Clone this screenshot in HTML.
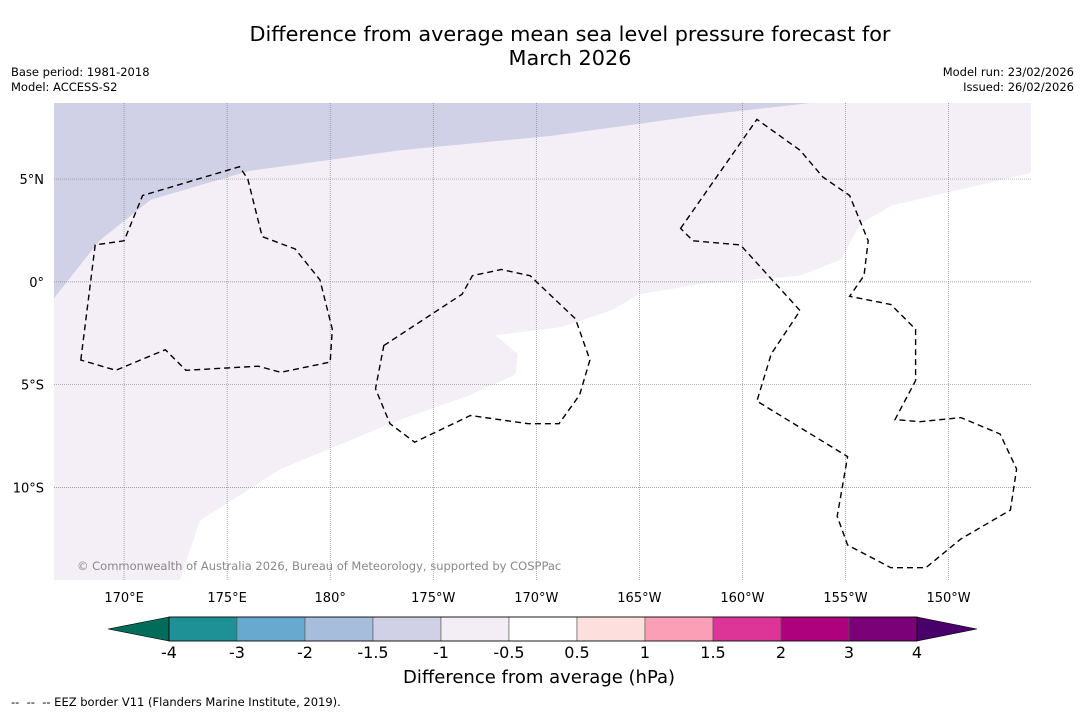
<!DOCTYPE html>
<html><head><meta charset="utf-8">
<style>
body{margin:0;background:#fff;font-family:"DejaVu Sans","Liberation Sans",sans-serif;}
#wrap{position:relative;width:1085px;height:713px;overflow:hidden;background:#fff}
.t{position:absolute;white-space:nowrap;color:#000}
</style></head>
<body>
<div id="wrap">
<div class="t" style="left:0;width:1140px;top:22px;text-align:center;font-size:20.8px;line-height:24px">Difference from average mean sea level pressure forecast for<br>March 2026</div>
<div class="t" style="left:11px;top:65px;font-size:11.5px;line-height:15px">Base period: 1981-2018<br>Model: ACCESS-S2</div>
<div class="t" style="right:11px;top:65px;font-size:11.5px;line-height:15px;text-align:right">Model run: 23/02/2026<br>Issued: 26/02/2026</div>
<svg id="svg" width="1085" height="713" style="position:absolute;left:0;top:0"></svg>
<div class="t" style="left:403px;top:667px;font-size:18px">Difference from average (hPa)</div>
<div class="t" style="left:11px;top:695px;font-size:11.5px">--&nbsp; --&nbsp; -- EEZ border V11 (Flanders Marine Institute, 2019).</div>
</div>
<script>
const lonTicks=[170,175,180,185,190,195,200,205,210];
const lonLabels=["170°E","175°E","180°","175°W","170°W","165°W","160°W","155°W","150°W"];
const latTicks=[5,0,-5,-10];
const latLabels=["5°N","0°","5°S","10°S"];
const cbLevels=["-4","-3","-2","-1.5","-1","-0.5","0.5","1","1.5","2","3","4"];
const cbColors=["#1d9196","#67a9cf","#a6bddb","#d0d1e6","#f3edf6","#ffffff","#fde0dd","#fa9fb5","#dd3497","#ae017e","#7a0177"];
const darkBoundary=[[166.6,-0.8],[168.8,2.0],[171.3,4.0],[176.1,5.4],[183.4,6.4],[190.7,7.1],[198.0,8.1],[203.3,8.7]];
const whiteBoundary=[[172.7,-14.5],[173.7,-11.6],[177.6,-9.1],[183.4,-6.7],[186.8,-5.5],[189.0,-4.5],[189.1,-3.5],[188.0,-2.6],[191.2,-2.2],[193.6,-1.4],[195.0,-0.6],[198.0,-0.1],[202.8,0.3],[204.8,1.1],[205.7,2.8],[207.2,3.7],[214.0,5.3]];
const eez1=[[167.9,-3.8],[168.6,1.8],[170.0,2.0],[170.9,4.2],[175.6,5.6],[176.0,5.0],[176.7,2.2],[178.3,1.6],[179.5,0.1],[180.1,-2.3],[180.0,-3.9],[177.6,-4.4],[176.5,-4.1],[173.0,-4.3],[172.0,-3.3],[169.6,-4.3]];
const eez2=[[182.6,-3.1],[186.4,-0.6],[186.9,0.3],[188.3,0.6],[189.7,0.3],[191.9,-1.8],[192.6,-3.8],[192.1,-5.5],[191.1,-6.9],[189.6,-6.9],[186.8,-6.5],[184.1,-7.8],[182.9,-6.9],[182.2,-5.2]];
const eez3=[[197.0,2.6],[200.7,7.9],[202.8,6.4],[203.9,5.1],[205.2,4.2],[206.1,2.0],[205.9,0.3],[205.2,-0.7],[207.2,-1.1],[208.4,-2.3],[208.4,-4.8],[207.4,-6.7],[208.6,-6.8],[210.6,-6.6],[212.5,-7.4],[213.3,-9.1],[213.0,-11.1],[210.6,-12.5],[208.9,-13.9],[207.2,-13.9],[205.1,-12.8],[204.6,-11.4],[205.1,-8.5],[200.7,-5.8],[201.4,-3.5],[202.8,-1.4],[199.9,1.8],[197.6,2.0]];

const NS="http://www.w3.org/2000/svg";
const svg=document.getElementById('svg');
const X0=54,X1=1031,Y0=103,Y1=580;
const LON0=166.6,LON1=214.0,LAT0=8.7,LAT1=-14.5;
const xs=l=>X0+(l-LON0)/(LON1-LON0)*(X1-X0);
const ys=l=>Y0+(l-LAT0)/(LAT1-LAT0)*(Y1-Y0);
function el(t,a,p){const e=document.createElementNS(NS,t);for(const k in a)e.setAttribute(k,a[k]);(p||svg).appendChild(e);return e;}
const pts=arr=>arr.map(p=>xs(p[0]).toFixed(1)+','+ys(p[1]).toFixed(1)).join(' ');

const defs=el('defs',{});
const cp=el('clipPath',{id:'clip'},defs);
el('rect',{x:X0,y:Y0,width:X1-X0,height:Y1-Y0},cp);
const g=el('g',{'clip-path':'url(#clip)'});


let lav=el('polygon',{points:pts([[LON0,LAT1]].concat(whiteBoundary).concat([[LON1,LAT0],[LON0,LAT0]])),fill:'#f4eef6'},g);


let dk=el('polygon',{points:pts(darkBoundary.concat([[LON0,LAT0]])),fill:'#d0d1e6'},g);


lonTicks.forEach((l,i)=>{
 const ln=el('line',{x1:xs(l),x2:xs(l),y1:Y0,y2:Y1,stroke:'#888','stroke-width':0.7,'stroke-dasharray':'1,1'},g);
 
 
 const t=el('text',{x:xs(l),y:602,'font-size':13,'text-anchor':'middle','font-family':'DejaVu Sans, Liberation Sans, sans-serif'});
 t.textContent=lonLabels[i];
 
 
});
latTicks.forEach((l,i)=>{
 const ln=el('line',{x1:X0,x2:X1,y1:ys(l),y2:ys(l),stroke:'#888','stroke-width':0.7,'stroke-dasharray':'1,1'},g);
 
 
 const t=el('text',{x:44,y:ys(l)+5,'font-size':13,'text-anchor':'end','font-family':'DejaVu Sans, Liberation Sans, sans-serif'});
 t.textContent=latLabels[i];
 
 
});
[eez1,eez2,eez3].forEach(e=>{
 const p=el('polygon',{points:pts(e),fill:'none',stroke:'#000','stroke-width':1.4,'stroke-dasharray':'6,4'},g);
 
 
});
const cr=el('text',{x:77,y:570,'font-size':11.5,fill:'#888','font-family':'DejaVu Sans, Liberation Sans, sans-serif'},g);
cr.textContent='© Commonwealth of Australia 2026, Bureau of Meteorology, supported by COSPPac';



const CB0=169,CB1=917,CBY=617,CBH=24;
const n=cbColors.length,bw=(CB1-CB0)/n;
let lt=el('polygon',{points:`${CB0},${CBY} ${108},${CBY+CBH/2} ${CB0},${CBY+CBH}`,fill:'#016c59',stroke:'#000','stroke-width':0.6});


let rt=el('polygon',{points:`${CB1},${CBY} ${977},${CBY+CBH/2} ${CB1},${CBY+CBH}`,fill:'#49006a',stroke:'#000','stroke-width':0.6});


cbColors.forEach((c,i)=>{
 const r=el('rect',{x:CB0+i*bw,y:CBY,width:bw,height:CBH,fill:c,stroke:'#555','stroke-width':0.6});
 
 
});
el('rect',{x:CB0,y:CBY,width:CB1-CB0,height:CBH,fill:'none',stroke:'#000','stroke-width':0.8});
cbLevels.forEach((v,i)=>{
 const t=el('text',{x:CB0+i*bw,y:658,'font-size':16,'text-anchor':'middle','font-family':'DejaVu Sans, Liberation Sans, sans-serif'});
 t.textContent=v;
 
 
});
</script>
</body></html>
